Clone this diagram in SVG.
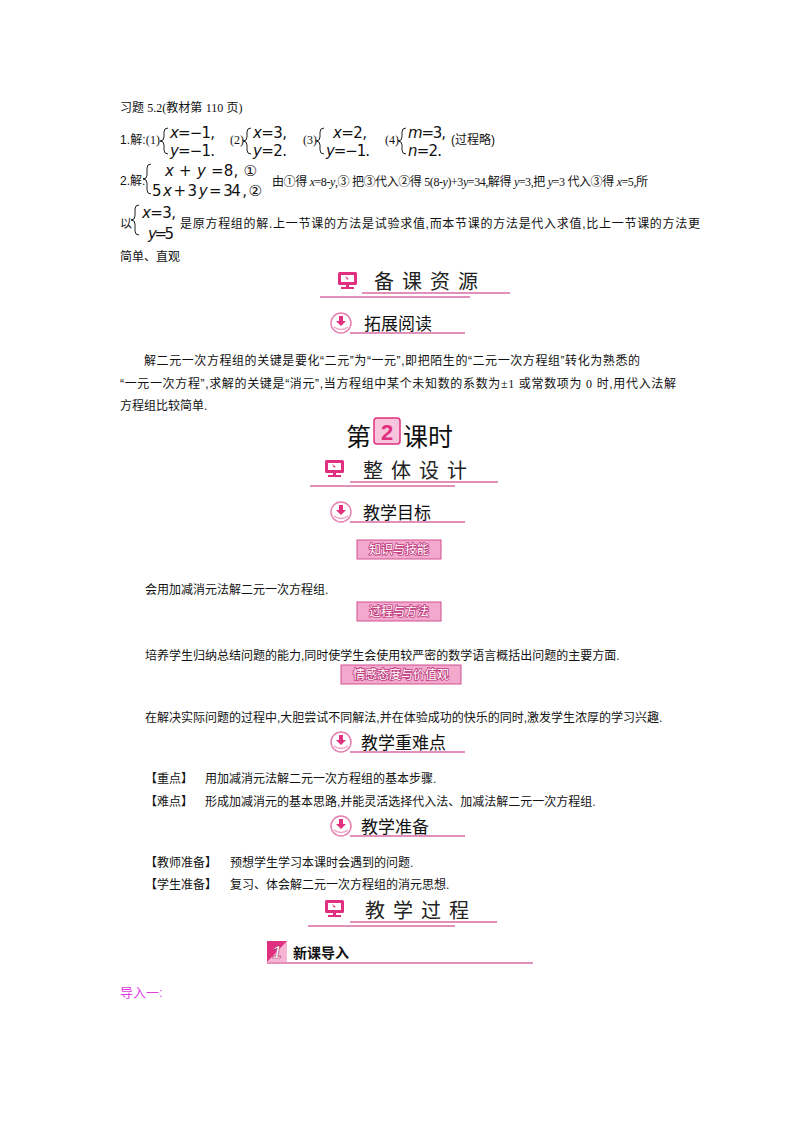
<svg xmlns="http://www.w3.org/2000/svg" width="800" height="1132" viewBox="0 0 800 1132">
<defs>
<style>
.t{font-family:"Liberation Serif","Noto Sans CJK SC",serif;font-size:12px;fill:#111}
.c{font-family:"Liberation Sans","Noto Sans CJK SC",sans-serif;font-size:12px;fill:#111}
.m{font-family:"DejaVu Sans","Noto Sans CJK SC",sans-serif;font-size:15px;fill:#111}
.i{font-style:italic}
.h1{font-family:"Noto Sans CJK SC",sans-serif;font-size:20px;fill:#222;letter-spacing:8px}
.h2{font-family:"Noto Sans CJK SC",sans-serif;font-size:17px;fill:#111}
.br{fill:none;stroke:#222;stroke-width:1}
.pl{stroke:#d86aa5;stroke-width:1.3}
.btn{fill:#f3a9cd;stroke:#d2508f;stroke-width:1}
.bt{font-family:"Noto Sans CJK SC",sans-serif;font-size:12px;fill:#fff;stroke:#c03b7e;stroke-width:1.6;paint-order:stroke;text-anchor:middle}
</style>
<g id="monitor">
<rect x="0" y="0" width="19" height="13" rx="1.5" fill="#e0307f"/>
<rect x="3" y="3" width="13" height="7" fill="#fff"/>
<path d="M7 4 L11 7 L9 7.5 Z" fill="#e0307f"/>
<rect x="8" y="13" width="3" height="2" fill="#e0307f"/>
<rect x="3" y="15" width="13" height="2" fill="#e0307f"/>
</g>
<g id="down">
<circle cx="0" cy="0" r="10" fill="#fff" stroke="#e77fb0" stroke-width="1.5"/>
<path d="M-2 -7 h4 v5 h3 l-5 5 l-5 -5 h3 z" fill="#e0307f"/>
<path d="M-7 4 Q0 9 7 4" fill="none" stroke="#f0a0c6" stroke-width="1.5"/>
</g>
</defs>
<rect width="800" height="1132" fill="#fff"/>

<g id="exercises">
<text class="c" x="120" y="112">习题 <tspan class="t">5.2(</tspan>教材第 <tspan class="t">110</tspan> 页<tspan class="t">)</tspan></text>
<text class="c" x="120" y="144" textLength="40">1.解:<tspan class="t">(1)</tspan></text>
<path class="br" d="M168 128 q-4 0 -4 4 v5 q0 4 -4 4 q4 0 4 4 v5 q0 4 4 4"/>
<text class="m" x="170" y="138" textLength="45"><tspan class="i">x</tspan>=−1,</text>
<text class="m" x="170" y="156" textLength="45"><tspan class="i">y</tspan>=−1.</text>
<text class="t" x="230" y="144">(2)</text>
<path class="br" d="M251 128 q-4 0 -4 4 v5 q0 4 -4 4 q4 0 4 4 v5 q0 4 4 4"/>
<text class="m" x="253" y="138" textLength="34"><tspan class="i">x</tspan>=3,</text>
<text class="m" x="253" y="156" textLength="34"><tspan class="i">y</tspan>=2.</text>
<text class="t" x="303" y="144">(3)</text>
<path class="br" d="M324 128 q-4 0 -4 4 v5 q0 4 -4 4 q4 0 4 4 v5 q0 4 4 4"/>
<text class="m" x="333" y="138" textLength="34"><tspan class="i">x</tspan>=2,</text>
<text class="m" x="326" y="156" textLength="44"><tspan class="i">y</tspan>=−1.</text>
<text class="t" x="385" y="144">(4)</text>
<path class="br" d="M406 128 q-4 0 -4 4 v5 q0 4 -4 4 q4 0 4 4 v5 q0 4 4 4"/>
<text class="m" x="408" y="138" textLength="38"><tspan class="i">m</tspan>=3,</text>
<text class="m" x="408" y="156" textLength="34"><tspan class="i">n</tspan>=2.</text>
<text class="c" x="451" y="144">(过程略)</text>

<text class="c" x="120" y="185">2.解:</text>
<path class="br" d="M151 164 q-4 0 -4 4 v7 q0 4 -4 4 q4 0 4 4 v7 q0 4 4 4"/>
<text class="m" x="165" y="176" textLength="92"><tspan class="i">x</tspan> + <tspan class="i">y</tspan> =8, ①</text>
<text class="m" x="152" y="196" textLength="110">5 <tspan class="i">x</tspan> + 3 <tspan class="i">y</tspan> = 34 , ②</text>
<text class="c" x="272" y="186" textLength="376">由①得 <tspan class="t i">x</tspan><tspan class="t">=8-</tspan><tspan class="t i">y</tspan><tspan class="t">,③</tspan>   把③代入②得 <tspan class="t">5(8-</tspan><tspan class="t i">y</tspan><tspan class="t">)+3</tspan><tspan class="t i">y</tspan><tspan class="t">=34,</tspan>解得 <tspan class="t i">y</tspan><tspan class="t">=3,</tspan>把 <tspan class="t i">y</tspan><tspan class="t">=3</tspan> 代入③得 <tspan class="t i">x</tspan><tspan class="t">=5,</tspan>所</text>

<text class="c" x="120" y="228">以</text>
<path class="br" d="M139 205 q-4 0 -4 4 v7 q0 4 -4 4 q4 0 4 4 v7 q0 4 4 4"/>
<text class="m" x="142" y="218" textLength="34"><tspan class="i">x</tspan>=3,</text>
<text class="m" x="148" y="239" textLength="26"><tspan class="i">y</tspan>=5</text>
<text class="c" x="180" y="228" textLength="520">是原方程组的解.上一节课的方法是试验求值,而本节课的方法是代入求值,比上一节课的方法更</text>
<text class="c" x="120" y="261">简单、直观</text>
</g>

<g id="hdr-beike">
<use href="#monitor" x="338" y="272"/>
<text class="h1" x="374" y="289">备课资源</text>
<line class="pl" x1="362" y1="293" x2="510" y2="293"/>
<line class="pl" x1="320" y1="297" x2="470" y2="297"/>
</g>
<g id="hdr-tuozhan">
<use href="#down" x="341" y="323"/>
<text class="h2" x="364" y="330">拓展阅读</text>
<line class="pl" x1="350" y1="333" x2="465" y2="333"/>
</g>
<g id="para-1">
<text class="c" x="144" y="365" textLength="496">解二元一次方程组的关键是要化“二元”为“一元”,即把陌生的“二元一次方程组”转化为熟悉的</text>
<text class="c" x="120" y="388" textLength="556">“一元一次方程”,求解的关键是“消元”,当方程组中某个未知数的系数为<tspan class="t">±1</tspan> 或常数项为 <tspan class="t">0</tspan> 时,用代入法解</text>
<text class="c" x="120" y="410">方程组比较简单.</text>
</g>

<g id="lesson-title">
<text font-family="Noto Sans CJK SC,sans-serif" font-size="25" fill="#111" x="346" y="446">第</text>
<rect x="374" y="418" width="26" height="26" rx="3" fill="#f7c5dc" stroke="#e0307f" stroke-width="1.5"/>
<text font-family="Liberation Sans,sans-serif" font-weight="bold" font-size="22" fill="#e0307f" x="387" y="440" text-anchor="middle">2</text>
<text font-family="Noto Sans CJK SC,sans-serif" font-size="25" fill="#111" x="403" y="446">课时</text>
</g>
<g id="hdr-zhengti">
<use href="#monitor" x="325" y="460"/>
<text class="h1" x="363" y="478">整体设计</text>
<line class="pl" x1="350" y1="482" x2="498" y2="482"/>
<line class="pl" x1="310" y1="486" x2="455" y2="486"/>
</g>
<g id="hdr-mubiao">
<use href="#down" x="341" y="512"/>
<text class="h2" x="363" y="519">教学目标</text>
<line class="pl" x1="350" y1="522" x2="465" y2="522"/>
</g>
<g id="btn-zhishi">
<rect class="btn" x="357" y="540" width="84" height="19"/>
<text class="bt" x="399" y="554">知识与技能</text>
</g>
<text class="c" x="145" y="594">会用加减消元法解二元一次方程组.</text>
<g id="btn-guocheng">
<rect class="btn" x="357" y="602" width="84" height="19"/>
<text class="bt" x="399" y="616">过程与方法</text>
</g>
<text class="c" x="145" y="660">培养学生归纳总结问题的能力,同时使学生会使用较严密的数学语言概括出问题的主要方面.</text>
<g id="btn-qinggan">
<rect class="btn" x="341" y="665" width="120" height="19"/>
<text class="bt" x="401" y="679">情感态度与价值观</text>
</g>
<text class="c" x="145" y="722">在解决实际问题的过程中,大胆尝试不同解法,并在体验成功的快乐的同时,激发学生浓厚的学习兴趣.</text>

<g id="hdr-zhongnan">
<use href="#down" x="341" y="742"/>
<text class="h2" x="361" y="749">教学重难点</text>
<line class="pl" x1="350" y1="752" x2="465" y2="752"/>
</g>
<text class="c" x="145" y="783">【重点】</text><text class="c" x="205" y="783">用加减消元法解二元一次方程组的基本步骤.</text>
<text class="c" x="145" y="806">【难点】</text><text class="c" x="205" y="806">形成加减消元的基本思路,并能灵活选择代入法、加减法解二元一次方程组.</text>

<g id="hdr-zhunbei">
<use href="#down" x="341" y="826"/>
<text class="h2" x="361" y="833">教学准备</text>
<line class="pl" x1="350" y1="836" x2="465" y2="836"/>
</g>
<text class="c" x="145" y="867">【教师准备】</text><text class="c" x="230" y="867">预想学生学习本课时会遇到的问题.</text>
<text class="c" x="145" y="889">【学生准备】</text><text class="c" x="230" y="889">复习、体会解二元一次方程组的消元思想.</text>

<g id="hdr-guocheng">
<use href="#monitor" x="325" y="900"/>
<text class="h1" x="365" y="918">教学过程</text>
<line class="pl" x1="350" y1="922" x2="497" y2="922"/>
<line class="pl" x1="308" y1="926" x2="455" y2="926"/>
</g>
<g id="hdr-xinke">
<path d="M267 941 h20 v21 h-20 z" fill="#f7b4d3"/>
<path d="M267 941 h20 l-20 21 z" fill="#e0307f"/>
<text font-family="Liberation Sans,sans-serif" font-style="italic" font-weight="bold" font-size="17" fill="#fff" stroke="#b02565" stroke-width="0.6" x="272" y="958">1</text>
<text font-family="Noto Sans CJK SC,sans-serif" font-weight="bold" font-size="14" fill="#111" x="293" y="958">新课导入</text>
<line class="pl" x1="267" y1="963" x2="533" y2="963"/>
</g>
<text font-family="Liberation Sans,Noto Sans CJK SC,sans-serif" font-size="13" fill="#e040e0" x="120" y="997">导入一:</text>
</svg>
